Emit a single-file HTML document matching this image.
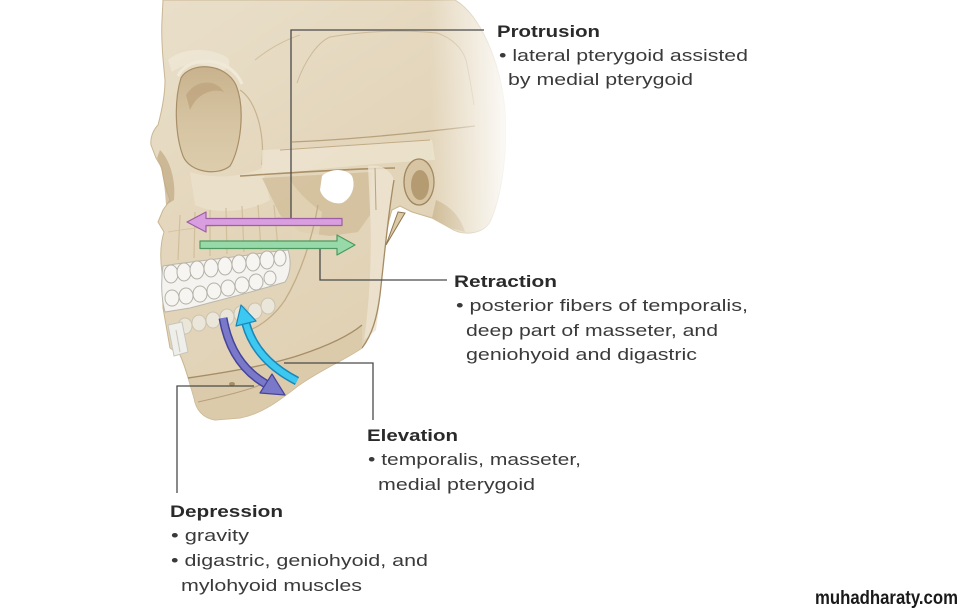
<!DOCTYPE html>
<html>
<head>
<meta charset="utf-8">
<style>
  html,body{margin:0;padding:0;background:#fff;}
  body{width:965px;height:612px;overflow:hidden;}
  svg{display:block;}
  .t{font-family:"Liberation Sans",Arial,sans-serif;font-size:17px;fill:#3a3a3a;}
  .b{font-family:"Liberation Sans",Arial,sans-serif;font-size:17px;font-weight:bold;fill:#2a2a2a;}
</style>
</head>
<body>
<svg width="965" height="612" viewBox="0 0 965 612" xmlns="http://www.w3.org/2000/svg">
  <defs>
    <linearGradient id="bone" x1="150" y1="0" x2="420" y2="420" gradientUnits="userSpaceOnUse">
      <stop offset="0" stop-color="#e9dfca"/>
      <stop offset="0.5" stop-color="#e3d5ba"/>
      <stop offset="1" stop-color="#dfd0b2"/>
    </linearGradient>
    <linearGradient id="fadeR" x1="430" y1="0" x2="512" y2="0" gradientUnits="userSpaceOnUse">
      <stop offset="0" stop-color="#ffffff" stop-opacity="0"/>
      <stop offset="1" stop-color="#ffffff" stop-opacity="0.95"/>
    </linearGradient>
    <linearGradient id="orb" x1="0" y1="0" x2="0" y2="1">
      <stop offset="0" stop-color="#c9b38e"/>
      <stop offset="0.55" stop-color="#d6c4a2"/>
      <stop offset="1" stop-color="#ddcdad"/>
    </linearGradient>
  </defs>

  <!-- main skull silhouette -->
  <path d="M163,0 L455,0 C480,15 500,60 505,110 C508,160 500,200 490,222 C482,235 462,236 450,228 L432,218 L412,212 L400,206 L392,210 C385,230 384,260 380,290 C377,315 372,335 362,348 C345,360 320,370 298,386 C280,400 262,414 240,418 L215,420 C203,418 196,410 194,398 C190,385 186,368 180,355 L170,348 L166,325 L163,308 L162,272 C160,258 160,245 164,232 L158,222 L163,210 L170,200 C166,190 163,180 162,168 L156,158 L151,145 C150,138 153,130 158,125 C162,110 165,95 165,80 C163,60 161,40 162,20 Z" fill="url(#bone)" stroke="#c9b692" stroke-width="1"/>

  <!-- brow ridge highlight -->
  <path d="M168,60 C180,48 210,46 228,58 C232,66 226,72 218,70 C205,62 185,62 172,72 Z" fill="#efe7d6" opacity="0.8"/>
  <!-- cranium sutures -->
  <path d="M297,83 C305,60 318,42 330,37 C370,30 410,30 437,33 C452,38 462,48 466,60 C470,78 472,92 474,105" fill="none" stroke="#cdb998" stroke-width="1"/>
  <path d="M255,60 C270,48 285,40 300,35" fill="none" stroke="#d2c0a0" stroke-width="1"/>
  <!-- temporal line -->
  <path d="M292,142 C340,140 400,135 475,126" fill="none" stroke="#b8a27d" stroke-width="1.3"/>

  <!-- orbit -->
  <path d="M181,78 C190,62 225,62 236,85 C246,110 240,150 230,166 C218,176 190,173 183,156 C175,135 174,100 181,78 Z" fill="url(#orb)" stroke="#a88f68" stroke-width="1.2"/>
  <path d="M186,95 C195,80 215,78 224,92 C214,88 198,92 190,110 Z" fill="#bea57e" opacity="0.8"/>
  <path d="M178,76 C188,55 230,55 242,84" fill="none" stroke="#f1e9d8" stroke-width="3"/>
  <!-- zygomatic bone highlight -->
  <path d="M190,172 C215,180 245,176 262,168 L270,200 C250,212 215,215 195,205 Z" fill="#ebe1cc" opacity="0.8"/>
  <!-- frontal process of zygomatic -->
  <path d="M240,90 C255,100 265,130 262,165" fill="none" stroke="#c7b28d" stroke-width="1.2"/>

  <!-- nasal aperture shadow -->
  <path d="M160,150 C170,160 176,180 174,200 L166,205 C165,188 163,170 157,158 Z" fill="#c2aa82" opacity="0.7"/>

  <!-- zygomatic arch -->
  <path d="M262,150 C320,147 380,143 432,140 L435,160 C380,163 320,168 262,176 Z" fill="#ece3cf" opacity="0.8"/>
  <path d="M240,176 C290,173 340,169 395,168" fill="none" stroke="#a99066" stroke-width="1.5"/>
  <path d="M280,150 C330,147 380,143 430,140" fill="none" stroke="#c2ab85" stroke-width="1"/>

  <!-- shadow under arch -->
  <path d="M262,178 L372,172 L370,215 L358,232 L330,236 L300,232 L280,215 Z" fill="#cfbb96" opacity="0.7"/>
  <!-- coronoid -->
  <path d="M290,180 C300,195 312,205 322,212 L318,240 L292,240 Z" fill="#e2d4b8" opacity="0.8"/>
  <!-- white notch hole -->
  <path d="M322,176 C330,168 346,168 352,176 C356,186 352,198 342,203 C332,205 322,198 320,190 Z" fill="#ffffff"/>
  <!-- condyle / ramus posterior column -->
  <path d="M368,166 C378,164 390,168 394,180 L388,215 C384,250 382,290 376,330 L364,340 C370,300 372,250 370,210 Z" fill="#ece3d0" opacity="0.85"/>
  <path d="M394,180 C388,215 384,260 380,295 C377,318 372,335 362,348" fill="none" stroke="#a58c65" stroke-width="1.3"/>
  <path d="M375,168 L376,210" stroke="#b9a17b" stroke-width="1"/>

  <!-- ear -->
  <ellipse cx="419" cy="182" rx="15" ry="23" fill="#d6c4a2" stroke="#9f865f" stroke-width="1.3"/>
  <ellipse cx="420" cy="185" rx="9" ry="15" fill="#b59b72"/>
  <!-- mastoid shading -->
  <path d="M436,200 C448,205 460,215 465,232 L450,228 L432,218 Z" fill="#cfbb95"/>
  <!-- styloid -->
  <polygon points="398,212 405,213 386,245" fill="#dccaa6" stroke="#8f7650" stroke-width="1"/>

  <!-- right fade -->
  <rect x="430" y="0" width="85" height="245" fill="url(#fadeR)"/>

  <!-- maxilla root ridges -->
  <path d="M180,215 L178,260 M195,212 L194,258 M210,210 L210,256 M226,208 L227,254 M242,206 L244,252 M258,205 L261,250 M274,205 L278,248" stroke="#d1bf9c" stroke-width="1.2" fill="none"/>
  <path d="M168,232 C200,226 250,224 292,215" stroke="#d6c5a3" stroke-width="1" fill="none"/>

  <!-- ramus anterior border -->
  <path d="M318,205 C312,240 300,275 285,300 C275,315 262,325 250,330" fill="none" stroke="#c3ad88" stroke-width="1.3"/>
  <!-- mandible lower border line and shade -->
  <path d="M188,378 C230,372 270,365 300,355 C330,345 350,335 362,325 L362,348 C345,360 320,370 298,386 C280,400 262,414 240,418 L215,420 C203,418 196,410 194,398 Z" fill="#d9c8a7" opacity="0.7"/>
  <path d="M188,378 C230,372 270,365 300,355 C330,345 350,335 362,325" fill="none" stroke="#a68d66" stroke-width="1.4"/>
  <path d="M198,402 C225,396 250,390 262,384" fill="none" stroke="#b8a07a" stroke-width="1"/>
  <ellipse cx="232" cy="384" rx="3" ry="2" fill="#a68d66"/>

  <!-- lower teeth (in jaw) -->
  <g fill="#ebe6da" stroke="#cbc3b0" stroke-width="1">
    <ellipse cx="185" cy="326" rx="7" ry="8"/>
    <ellipse cx="199" cy="323" rx="7" ry="8"/>
    <ellipse cx="213" cy="320" rx="7" ry="8"/>
    <ellipse cx="227" cy="317" rx="7" ry="8"/>
    <ellipse cx="241" cy="314" rx="7" ry="8"/>
    <ellipse cx="255" cy="311" rx="7" ry="8"/>
    <ellipse cx="268" cy="306" rx="7" ry="8"/>
  </g>
  <!-- front lower incisors -->
  <path d="M168,325 L182,322 L188,352 L174,356 Z" fill="#eeeeea" stroke="#c9c5bb" stroke-width="1"/>
  <path d="M176,330 L180,352" stroke="#c9c5bb" stroke-width="1"/>

  <!-- upper teeth block -->
  <path d="M163,266 C185,262 230,258 270,252 L288,250 C292,262 290,275 285,282 C260,290 220,300 190,308 L165,312 C161,298 161,280 163,266 Z" fill="#f4f3ef" stroke="#b9b6ac" stroke-width="1"/>
  <g fill="#f6f5f1" stroke="#b4b1a7" stroke-width="1">
    <ellipse cx="171" cy="274" rx="7" ry="9"/>
    <ellipse cx="184" cy="272" rx="7" ry="9"/>
    <ellipse cx="197" cy="270" rx="7" ry="9"/>
    <ellipse cx="211" cy="268" rx="7" ry="9"/>
    <ellipse cx="225" cy="266" rx="7" ry="9"/>
    <ellipse cx="239" cy="264" rx="7" ry="9"/>
    <ellipse cx="253" cy="262" rx="7" ry="9"/>
    <ellipse cx="267" cy="260" rx="7" ry="9"/>
    <ellipse cx="280" cy="258" rx="6" ry="8"/>
    <ellipse cx="172" cy="298" rx="7" ry="8"/>
    <ellipse cx="186" cy="296" rx="7" ry="8"/>
    <ellipse cx="200" cy="294" rx="7" ry="8"/>
    <ellipse cx="214" cy="291" rx="7" ry="8"/>
    <ellipse cx="228" cy="288" rx="7" ry="8"/>
    <ellipse cx="242" cy="285" rx="7" ry="8"/>
    <ellipse cx="256" cy="282" rx="7" ry="8"/>
    <ellipse cx="270" cy="278" rx="6" ry="7"/>
  </g>

  <!-- leader lines -->
  <g stroke="#4a4a4a" stroke-width="1.3" fill="none">
    <path d="M291,222 L291,30 L484,30"/>
    <path d="M320,246 L320,280 L447,280"/>
    <path d="M284,363 L373,363 L373,420"/>
    <path d="M254,386 L177,386 L177,493"/>
  </g>

  <!-- pink protrusion arrow -->
  <path d="M187,222 L206,212 L206,218.5 L342,218.5 L342,225.5 L206,225.5 L206,232 Z" fill="#d89ee0" stroke="#9d5ea5" stroke-width="1.2" stroke-linejoin="round"/>
  <!-- green retraction arrow -->
  <path d="M200,241 L337,241 L337,235 L355,245 L337,255 L337,248.5 L200,248.5 Z" fill="#97d9a9" stroke="#4c9a60" stroke-width="1.2" stroke-linejoin="round"/>

  <!-- violet depression arrow -->
  <path d="M223,318 Q231,364 266,384" fill="none" stroke="#46449a" stroke-width="9"/>
  <path d="M223,318 Q231,364 266,384" fill="none" stroke="#7a78c8" stroke-width="6"/>
  <polygon points="260,393 272,374 285,395" fill="#7a78c8" stroke="#46449a" stroke-width="1.2" stroke-linejoin="round"/>

  <!-- cyan elevation arrow -->
  <path d="M297,381 Q256,360 246,324" fill="none" stroke="#1b86b8" stroke-width="9"/>
  <path d="M297,381 Q256,360 246,324" fill="none" stroke="#3cc8f0" stroke-width="6"/>
  <polygon points="256,321 236,326 241,305" fill="#3cc8f0" stroke="#1b86b8" stroke-width="1.2" stroke-linejoin="round"/>

  <!-- labels -->
  <text class="b" x="497" y="37" textLength="103" lengthAdjust="spacingAndGlyphs">Protrusion</text>
  <text class="t" x="499" y="61" textLength="249" lengthAdjust="spacingAndGlyphs">• lateral pterygoid assisted</text>
  <text class="t" x="508" y="85" textLength="185" lengthAdjust="spacingAndGlyphs">by medial pterygoid</text>

  <text class="b" x="454" y="287" textLength="103" lengthAdjust="spacingAndGlyphs">Retraction</text>
  <text class="t" x="456" y="311" textLength="292" lengthAdjust="spacingAndGlyphs">• posterior fibers of temporalis,</text>
  <text class="t" x="466" y="336" textLength="252" lengthAdjust="spacingAndGlyphs">deep part of masseter, and</text>
  <text class="t" x="466" y="360" textLength="231" lengthAdjust="spacingAndGlyphs">geniohyoid and digastric</text>

  <text class="b" x="367" y="441" textLength="91" lengthAdjust="spacingAndGlyphs">Elevation</text>
  <text class="t" x="368" y="465" textLength="213" lengthAdjust="spacingAndGlyphs">• temporalis, masseter,</text>
  <text class="t" x="378" y="490" textLength="157" lengthAdjust="spacingAndGlyphs">medial pterygoid</text>

  <text class="b" x="170" y="517" textLength="113" lengthAdjust="spacingAndGlyphs">Depression</text>
  <text class="t" x="171" y="541" textLength="78" lengthAdjust="spacingAndGlyphs">• gravity</text>
  <text class="t" x="171" y="566" textLength="257" lengthAdjust="spacingAndGlyphs">• digastric, geniohyoid, and</text>
  <text class="t" x="181" y="591" textLength="181" lengthAdjust="spacingAndGlyphs">mylohyoid muscles</text>

  <text x="815" y="604" textLength="143" lengthAdjust="spacingAndGlyphs" style="font-family:'Liberation Sans',Arial,sans-serif;font-size:19px;font-weight:bold;fill:#1a1a1a;">muhadharaty.com</text>
</svg>
</body>
</html>
